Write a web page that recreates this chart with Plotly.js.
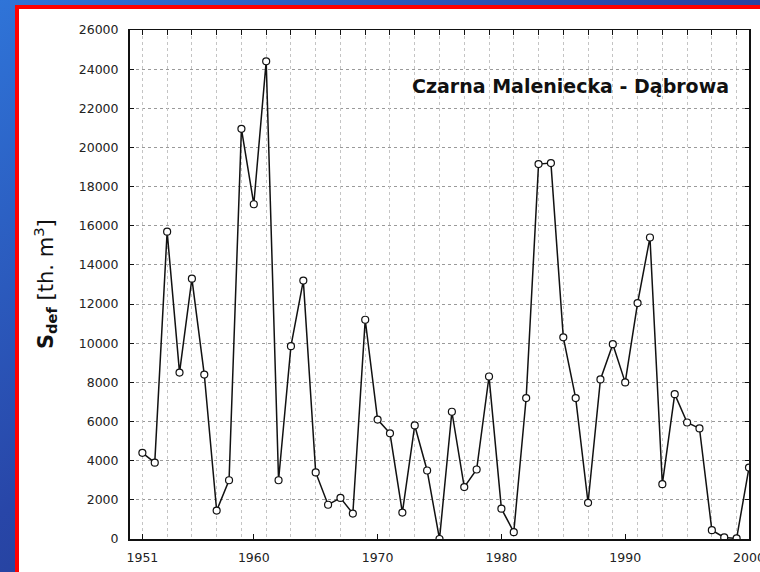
<!DOCTYPE html>
<html>
<head>
<meta charset="utf-8">
<script src="https://cdn.plot.ly/plotly-3.0.1.min.js"></script>
<style>
html,body{margin:0;padding:0;width:760px;height:572px;overflow:hidden;}
body{background:linear-gradient(to bottom right,#2f74d8 0%,#2846a8 45%,#1c3272 100%);position:relative;}
#frame{position:absolute;left:15px;top:5px;width:800px;height:620px;border:4px solid #ff0000;background:#ffffff;}
#chart{position:absolute;left:0;top:0;width:760px;height:572px;}
</style>
</head>
<body>
<div id="frame"></div>
<div id="chart"></div>
<script>
var years = [1951,1952,1953,1954,1955,1956,1957,1958,1959,1960,
             1961,1962,1963,1964,1965,1966,1967,1968,1969,1970,
             1971,1972,1973,1974,1975,1976,1977,1978,1979,1980,
             1981,1982,1983,1984,1985,1986,1987,1988,1989,1990,
             1991,1992,1993,1994,1995,1996,1997,1998,1999,2000];
var sdef = [4400,3900,15700,8500,13300,8400,1450,3000,20950,17100,
            24400,3000,9850,13200,3400,1750,2100,1300,11200,6100,
            5400,1350,5800,3500,0,6500,2650,3550,8300,1550,
            350,7200,19150,19200,10300,7200,1850,8150,9950,8000,
            12050,15400,2800,7400,5950,5650,450,80,30,3650];
var xTickVals = [1951,1960,1970,1980,1990,2000];
var xGridVals = [1951,1953,1955,1957,1959,1961,1963,1965,1967,1969,1971,1973,1975,
                 1977,1979,1981,1983,1985,1987,1989,1991,1993,1995,1997,1999];
var yTickVals = [0,2000,4000,6000,8000,10000,12000,14000,16000,18000,20000,22000,24000,26000];
var chartTitle = "Czarna Maleniecka - Dąbrowa";
var yTitle = "<b>S</b><sub><b>def</b></sub> [th. m<sup>3</sup>]";

var traces = [
  {x: years, y: sdef, type: 'scatter', mode: 'lines+markers',
   line: {color: '#111111', width: 1.5},
   marker: {symbol: 'circle', size: 7, color: '#ffffff', line: {color: '#111111', width: 1.2}},
   showlegend: false, hoverinfo: 'x+y'},
  {x: [], y: [], xaxis: 'x2', type: 'scatter', showlegend: false}
];

var tickFont = {family: '"DejaVu Sans", sans-serif', size: 12.5, color: '#222'};

var layout = {
  width: 760, height: 572,
  margin: {l: 130, r: 11, t: 30, b: 33, pad: 0},
  paper_bgcolor: 'rgba(0,0,0,0)',
  plot_bgcolor: '#ffffff',
  font: {family: '"DejaVu Sans", sans-serif', size: 12, color: '#222222'},
  xaxis: {
    range: [1950, 2000], tickvals: xTickVals, ticktext: xTickVals.map(String),
    ticks: 'inside', ticklen: 5, tickcolor: '#111', tickwidth: 1,
    showline: true, linecolor: '#111111', linewidth: 2, mirror: false,
    showgrid: false, zeroline: false, ticklabeloverflow: 'allow',
    tickfont: tickFont, ticklabelstandoff: 6
  },
  xaxis2: {
    overlaying: 'x', side: 'top', range: [1950, 2000], tickvals: xGridVals,
    ticks: 'inside', ticklen: 5, tickcolor: '#111', tickwidth: 1,
    showticklabels: false, showline: true, linecolor: '#111111', linewidth: 1.5,
    showgrid: true, gridcolor: '#c4c4c4', gridwidth: 1, griddash: 'dot', zeroline: false
  },
  yaxis: {
    range: [0, 26000], tickvals: yTickVals, ticktext: yTickVals.map(String),
    ticks: 'inside', ticklen: 4, tickcolor: '#111', tickwidth: 1,
    showline: true, linecolor: '#111111', linewidth: 2, mirror: 'ticks',
    showgrid: true, gridcolor: '#9a9a9a', gridwidth: 1, griddash: 'dot', zeroline: false,
    ticklabeloverflow: 'allow', tickfont: tickFont, ticklabelstandoff: 7
  },
  annotations: [
    {text: chartTitle, xref: 'paper', yref: 'paper', x: 0.711, y: 0.89,
     xanchor: 'center', yanchor: 'middle', showarrow: false,
     font: {family: '"DejaVu Sans", sans-serif', size: 19, color: '#111111', weight: 'bold'}},
    {text: yTitle, xref: 'paper', yref: 'paper', x: -0.138, y: 0.5,
     xanchor: 'center', yanchor: 'middle', showarrow: false, textangle: -90,
     font: {family: '"DejaVu Sans", sans-serif', size: 21, color: '#111111'}}
  ]
};

Plotly.newPlot('chart', traces, layout, {displayModeBar: false, staticPlot: true});
</script>
</body>
</html>
